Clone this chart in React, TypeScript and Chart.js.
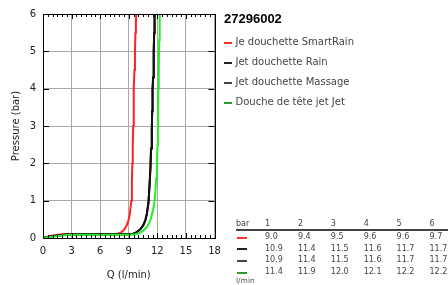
import React, { useEffect, useRef } from 'react';
import { Chart, registerables } from 'chart.js';
Chart.register(...registerables);

const chartTitle = '27296002';
const seriesNames = ['Je douchette SmartRain', 'Jet douchette Rain', 'Jet douchette Massage', 'Douche de tête jet Jet'];
const lineColors = ['#ff2020', '#000000', '#111111', '#22ee22'];
const legendColors = ['#ff3030', '#222222', '#444444', '#2a9a2a'];

const redQ = [0, 0.4, 0.9, 1.4, 2.0, 3.0, 5.0, 7.0, 7.8, 8.2, 8.5, 8.75, 8.95, 9.1, 9.2, 9.27, 9.33, 9.38, 9.42, 9.47, 9.5, 9.55, 9.6, 9.65, 9.7, 9.75, 9.8];
const redP = [0, 0.03, 0.06, 0.08, 0.1, 0.1, 0.1, 0.1, 0.11, 0.15, 0.22, 0.32, 0.45, 0.62, 0.85, 1.0, 1.5, 2.0, 2.5, 3.0, 3.5, 4.0, 4.5, 5.0, 5.5, 5.8, 6.0];

const rainQ = [0, 0.5, 1.0, 1.6, 2.2, 3.0, 6.0, 9.0, 9.4, 9.8, 10.2, 10.5, 10.75, 10.9, 11.07, 11.18, 11.28, 11.34, 11.42, 11.46, 11.5, 11.56, 11.62, 11.67, 11.71];
const rainP = [0, 0.03, 0.05, 0.07, 0.09, 0.1, 0.1, 0.1, 0.11, 0.15, 0.23, 0.33, 0.48, 0.65, 0.95, 1.4, 1.9, 2.4, 2.9, 3.4, 4.0, 4.3, 5.0, 5.5, 6.0];

const massageQ = [0, 0.5, 1.0, 1.6, 2.2, 3.0, 6.0, 9.0, 9.4, 9.8, 10.2, 10.5, 10.75, 10.9, 11.07, 11.18, 11.28, 11.34, 11.42, 11.46, 11.5, 11.56, 11.62, 11.67, 11.71];
const massageP = [0, 0.03, 0.05, 0.07, 0.09, 0.1, 0.1, 0.1, 0.11, 0.15, 0.23, 0.33, 0.48, 0.65, 0.95, 1.4, 1.9, 2.4, 2.9, 3.4, 4.0, 4.3, 5.0, 5.5, 6.0];

const jetQ = [0, 0.6, 1.2, 2.0, 2.8, 4.0, 7.0, 9.0, 9.7, 10.1, 10.5, 10.85, 11.1, 11.3, 11.5, 11.67, 11.78, 11.88, 11.96, 12.02, 12.06, 12.11, 12.15, 12.2, 12.25];
const jetP = [0, 0.02, 0.04, 0.07, 0.09, 0.09, 0.09, 0.09, 0.1, 0.13, 0.19, 0.28, 0.38, 0.5, 0.7, 0.9, 1.2, 1.6, 2.0, 2.5, 3.0, 4.0, 4.6, 5.3, 6.0];

const tablePressures = ['1', '2', '3', '4', '5', '6'];
const tableRed = [9.0, 9.4, 9.5, 9.6, 9.6, 9.7];
const tableRain = [10.9, 11.4, 11.5, 11.6, 11.7, 11.7];
const tableMassage = [10.9, 11.4, 11.5, 11.6, 11.7, 11.7];
const tableJet = [11.4, 11.9, 12.0, 12.1, 12.2, 12.2];

const xTitle = 'Q (l/min)';
const yTitle = 'Pressure (bar)';

const seriesQ = [redQ, rainQ, massageQ, jetQ];
const seriesP = [redP, rainP, massageP, jetP];
const tableRows = [tableRed, tableRain, tableMassage, tableJet];

const FONT = '"DejaVu Sans", sans-serif';

const framePlugin = {
  id: 'frame',
  afterDraw(chart: any) {
    const { ctx, chartArea: a, scales } = chart;
    const xs = scales.x;
    const ys = scales.y;
    ctx.save();
    ctx.strokeStyle = '#000';
    ctx.lineWidth = 1;
    ctx.beginPath();
    for (let v = 0.5; v < 18; v += 0.5) {
      const px = Math.round(xs.getPixelForValue(v)) + 0.5;
      const len = v % 3 === 0 ? 5 : 3;
      ctx.moveTo(px, a.bottom);
      ctx.lineTo(px, a.bottom - len);
      ctx.moveTo(px, a.top);
      ctx.lineTo(px, a.top + len);
    }
    for (let v = 1; v < 6; v++) {
      const py = Math.round(ys.getPixelForValue(v)) + 0.5;
      ctx.moveTo(a.left, py);
      ctx.lineTo(a.left + 6, py);
      ctx.moveTo(a.right, py);
      ctx.lineTo(a.right - 6, py);
    }
    ctx.stroke();
    ctx.strokeRect(Math.round(a.left) + 0.5, Math.round(a.top) + 0.5, Math.round(a.right - a.left), Math.round(a.bottom - a.top));
    ctx.restore();
  },
};

export default function App() {
  const ref = useRef<HTMLCanvasElement | null>(null);
  useEffect(() => {
    document.body.style.margin = '0';
    const order = [3, 2, 1, 0];
    const chart = new Chart(ref.current as HTMLCanvasElement, {
      type: 'scatter',
      data: {
        datasets: seriesNames.map((name, i) => ({
          label: name,
          data: seriesQ[i].map((q, j) => ({ x: q, y: seriesP[i][j] })),
          showLine: true,
          borderColor: lineColors[i],
          backgroundColor: lineColors[i],
          borderWidth: 2,
          pointRadius: 0,
          tension: 0,
          order: order[i],
        })),
      },
      options: {
        animation: false,
        responsive: false,
        devicePixelRatio: 1,
        layout: { padding: { top: 14, right: 233.5, left: 0, bottom: 0 } },
        plugins: { legend: { display: false }, tooltip: { enabled: false } },
        scales: {
          x: {
            type: 'linear',
            min: 0,
            max: 18,
            afterFit: (s: any) => { s.height = 47; },
            ticks: { stepSize: 3, padding: 7, color: '#222', font: { family: FONT, size: 10 } },
            grid: { color: '#a8a8a8', drawTicks: false },
            border: { display: false },
            title: { display: true, text: xTitle, color: '#222', font: { family: FONT, size: 10 }, padding: { top: 0, bottom: 4 } },
          },
          y: {
            type: 'linear',
            min: 0,
            max: 6,
            afterFit: (s: any) => { s.width = 43; },
            ticks: { stepSize: 1, padding: 7, color: '#222', font: { family: FONT, size: 10 } },
            grid: { color: '#a8a8a8', drawTicks: false },
            border: { display: false },
            title: { display: true, text: yTitle, color: '#222', font: { family: FONT, size: 10 }, padding: { top: 10, bottom: 0 } },
          },
        },
      },
      plugins: [framePlugin],
    } as any);
    return () => chart.destroy();
  }, []);

  const legendY = [43.3, 63.3, 83.3, 102.7];
  const rowY = [237.5, 249, 260.5, 272.5];
  const colX = (i: number) => 265 + i * 32.9;
  const txt: React.CSSProperties = { position: 'absolute', whiteSpace: 'nowrap', lineHeight: '1', fontFamily: FONT };

  return (
    <div style={{ position: 'fixed', left: 0, top: 0, width: 448, height: 285, background: '#fff', overflow: 'hidden' }}>
      <canvas ref={ref} width={448} height={285} style={{ position: 'absolute', left: 0, top: 0 }} />
      <div style={{ ...txt, left: 224, top: 18 - 6.5, fontFamily: '"Liberation Sans", Arial, sans-serif', fontWeight: 'bold', fontSize: 13, color: '#000' }}>{chartTitle}</div>
      {seriesNames.map((n, i) => (
        <React.Fragment key={n}>
          <div style={{ position: 'absolute', left: 224, top: legendY[i] - 1, width: 8, height: 2, background: legendColors[i] }} />
          <div style={{ ...txt, left: 235.5, top: legendY[i] - 6, fontSize: 10, color: '#444' }}>{n}</div>
        </React.Fragment>
      ))}
      <div style={{ ...txt, left: 236, top: 219.5, fontSize: 8, color: '#444' }}>bar</div>
      {tablePressures.map((p, i) => (
        <div key={p} style={{ ...txt, left: colX(i), top: 219.5, fontSize: 8, color: '#444' }}>{p}</div>
      ))}
      <div style={{ position: 'absolute', left: 236, top: 229, width: 212, height: 2, background: '#444' }} />
      {tableRows.map((row, r) => (
        <React.Fragment key={r}>
          <div style={{ position: 'absolute', left: 237, top: rowY[r] - 1, width: 10, height: 2, background: legendColors[r] }} />
          {row.map((v, i) => (
            <div key={i} style={{ ...txt, left: colX(i), top: rowY[r] - 4.5, fontSize: 8, color: '#444' }}>{v.toFixed(1)}</div>
          ))}
        </React.Fragment>
      ))}
      <div style={{ ...txt, left: 236, top: 277, fontSize: 7.5, color: '#555' }}>l/min</div>
    </div>
  );
}
